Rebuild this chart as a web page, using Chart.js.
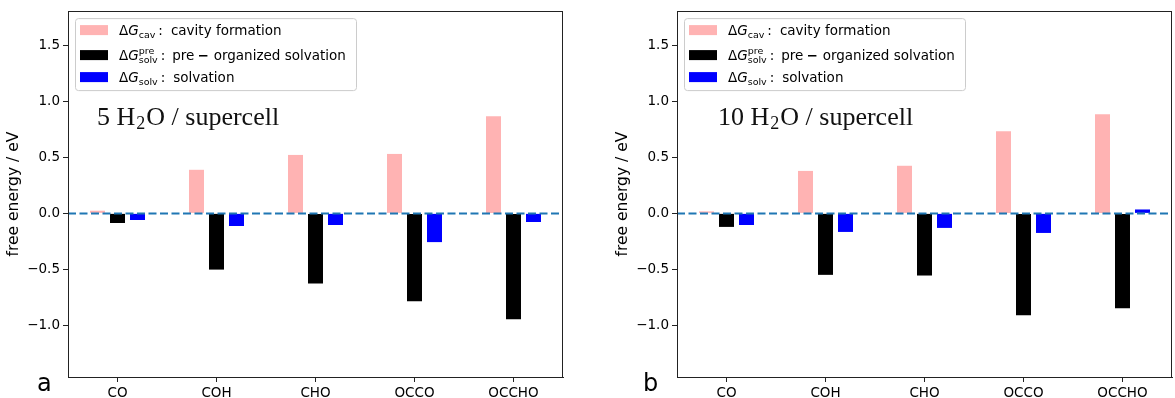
<!DOCTYPE html>
<html>
<head>
<meta charset="utf-8">
<script src="https://cdn.jsdelivr.net/npm/chart.js@4.4.0/dist/chart.umd.min.js"></script>
<style>
  html, body { margin: 0; padding: 0; background: #fff; }
  #wrap { position: relative; width: 1175px; height: 398px; }
  .panel { position: absolute; top: 0; height: 398px; }
</style>
</head>
<body>
<div id="wrap">
  <div class="panel" style="left:0;width:588px"><canvas id="chartA"></canvas></div>
  <div class="panel" style="left:588px;width:587px"><canvas id="chartB"></canvas></div>
</div>
<script>
// data
const categories = ["CO", "COH", "CHO", "OCCO", "OCCHO"]
const cavity5 = [0.024, 0.39, 0.523, 0.532, 0.87]
const preorg5 = [-0.086, -0.503, -0.627, -0.787, -0.947]
const solv5 = [-0.059, -0.113, -0.104, -0.257, -0.077]
const cavity10 = [0.018, 0.38, 0.426, 0.736, 0.887]
const preorg10 = [-0.121, -0.55, -0.556, -0.911, -0.849]
const solv10 = [-0.104, -0.166, -0.13, -0.175, 0.035]
const yTicks = [-1.0, -0.5, 0.0, 0.5, 1.0, 1.5]

const PINK = "#ffb3b3"
const BLACK = "#000000"
const BLUE = "#0000ff"
const AXIS = "#222222"
const SANS = "'DejaVu Sans', sans-serif"
const SERIF = "'Liberation Serif', serif"

function drawParts(ctx, x, y, parts) {
    parts.forEach(p => {
        ctx.font = p.font
        ctx.fillText(p.t, x + (p.dx || 0), y + (p.dy || 0))
        if (p.adv !== false) x += (p.dx || 0) + ctx.measureText(p.t).width
    })
    return x
}

// frame, zero line, legend, annotation
const decorations = {
    id: "decorations",
    afterDatasetsDraw(chart, args, opts) {
        const ctx = chart.ctx
        const a = chart.chartArea
        const y0 = chart.scales.y.getPixelForValue(0)
        ctx.save()
        ctx.strokeStyle = "#1f77b4"
        ctx.lineWidth = 2
        ctx.setLineDash([8, 3.5])
        ctx.beginPath()
        ctx.moveTo(a.left, y0)
        ctx.lineTo(a.right, y0)
        ctx.stroke()
        ctx.restore()
    },
    afterDraw(chart, args, opts) {
        const ctx = chart.ctx
        const a = chart.chartArea
        ctx.save()
        ctx.strokeStyle = AXIS
        ctx.lineWidth = 1
        ctx.strokeRect(Math.round(a.left) + 0.5, Math.round(a.top) + 0.5,
            Math.round(a.right - a.left) - 1, Math.round(a.bottom - a.top))

        // legend box
        const lx = a.left + 7
        const ly = a.top + 7
        const lw = 281
        const lh = 72
        ctx.fillStyle = "rgba(255,255,255,0.8)"
        ctx.strokeStyle = "#cccccc"
        ctx.beginPath()
        ctx.roundRect(lx + 0.5, ly + 0.5, lw, lh, 3)
        ctx.fill()
        ctx.stroke()

        const f = "13.5px " + SANS
        const fi = "italic 13.5px " + SANS
        const fs = "9.5px " + SANS
        const fb = "bold 13.5px " + SANS
        const rows = [
            { c: PINK, cy: ly + 12, parts: [
                { t: "\u0394", font: f }, { t: "G", font: fi },
                { t: "cav", font: fs, dy: 3 },
                { t: ":", font: f, dx: 3 }, { t: "cavity formation", font: f, dx: 8 }] },
            { c: BLACK, cy: ly + 37, parts: [
                { t: "\u0394", font: f }, { t: "G", font: fi },
                { t: "pre", font: fs, dy: -6, adv: false },
                { t: "solv", font: fs, dy: 3 },
                { t: ":", font: f, dx: 3 }, { t: "pre", font: f, dx: 7 },
                { t: "\u2212", font: fb, dx: 3 },
                { t: "organized solvation", font: f, dx: 5 }] },
            { c: BLUE, cy: ly + 59, parts: [
                { t: "\u0394", font: f }, { t: "G", font: fi },
                { t: "solv", font: fs, dy: 3 },
                { t: ":", font: f, dx: 3 }, { t: "solvation", font: f, dx: 8 }] }
        ]
        rows.forEach(r => {
            ctx.fillStyle = r.c
            ctx.fillRect(lx + 5, r.cy - 5, 28, 10)
            ctx.fillStyle = "#000"
            ctx.textBaseline = "alphabetic"
            drawParts(ctx, lx + 44, r.cy + 5, r.parts)
        })

        // panel annotation
        ctx.fillStyle = "#111"
        drawParts(ctx, opts.textX, 125, [
            { t: opts.count + " H", font: "26px " + SERIF },
            { t: "2", font: "18px " + SERIF, dy: 4, dx: 1 },
            { t: "O / supercell", font: "26px " + SERIF, dx: 1 }
        ])
        ctx.fillStyle = "#000"
        ctx.font = "24px " + SANS
        ctx.fillText(opts.letter, opts.letterX, 391)
        ctx.restore()
    }
}

function makePanel(id, cav, pre, solv, pad, deco) {
    const ctx = document.getElementById(id).getContext("2d")
    return new Chart(ctx, {
        type: "bar",
        data: {
            labels: categories,
            datasets: [
                { label: "cavity formation", data: cav, backgroundColor: PINK },
                { label: "pre-organized solvation", data: pre, backgroundColor: BLACK },
                { label: "solvation", data: solv, backgroundColor: BLUE }
            ]
        },
        options: {
            responsive: true,
            maintainAspectRatio: false,
            animation: false,
            categoryPercentage: 0.606,
            barPercentage: 0.75,
            layout: { padding: pad },
            plugins: {
                legend: { display: false },
                tooltip: { enabled: false },
                decorations: deco
            },
            scales: {
                x: {
                    offset: true,
                    grid: { drawOnChartArea: false, drawTicks: true, tickLength: 5, color: AXIS, offset: false },
                    border: { display: true, color: AXIS },
                    ticks: { color: "#000", font: { family: SANS, size: 13.5 }, padding: 3, maxRotation: 0 },
                    afterFit: s => { s.height = 21 }
                },
                y: {
                    min: -1.464,
                    max: 1.81,
                    afterBuildTicks: s => { s.ticks = yTicks.map(v => ({ value: v })) },
                    grid: { drawOnChartArea: false, drawTicks: true, tickLength: 5, color: AXIS },
                    border: { display: true, color: AXIS },
                    ticks: {
                        color: "#000",
                        font: { family: SANS, size: 13.5 },
                        padding: 3,
                        callback: v => v.toFixed(1).replace("-", "\u2212")
                    },
                    title: {
                        display: true,
                        text: "free energy / eV",
                        color: "#000",
                        font: { family: SANS, size: 15.5 },
                        padding: { top: 5, bottom: 0 }
                    },
                    afterFit: s => { s.width = 68 }
                }
            }
        },
        plugins: [decorations]
    })
}

makePanel("chartA", cavity5, preorg5, solv5,
    { left: 0, right: 25, top: 8, bottom: 0 },
    { count: "5", textX: 97, letter: "a", letterX: 37 })
makePanel("chartB", cavity10, preorg10, solv10,
    { left: 21, right: 3, top: 8, bottom: 0 },
    { count: "10", textX: 130, letter: "b", letterX: 55 })
</script>
</body>
</html>
